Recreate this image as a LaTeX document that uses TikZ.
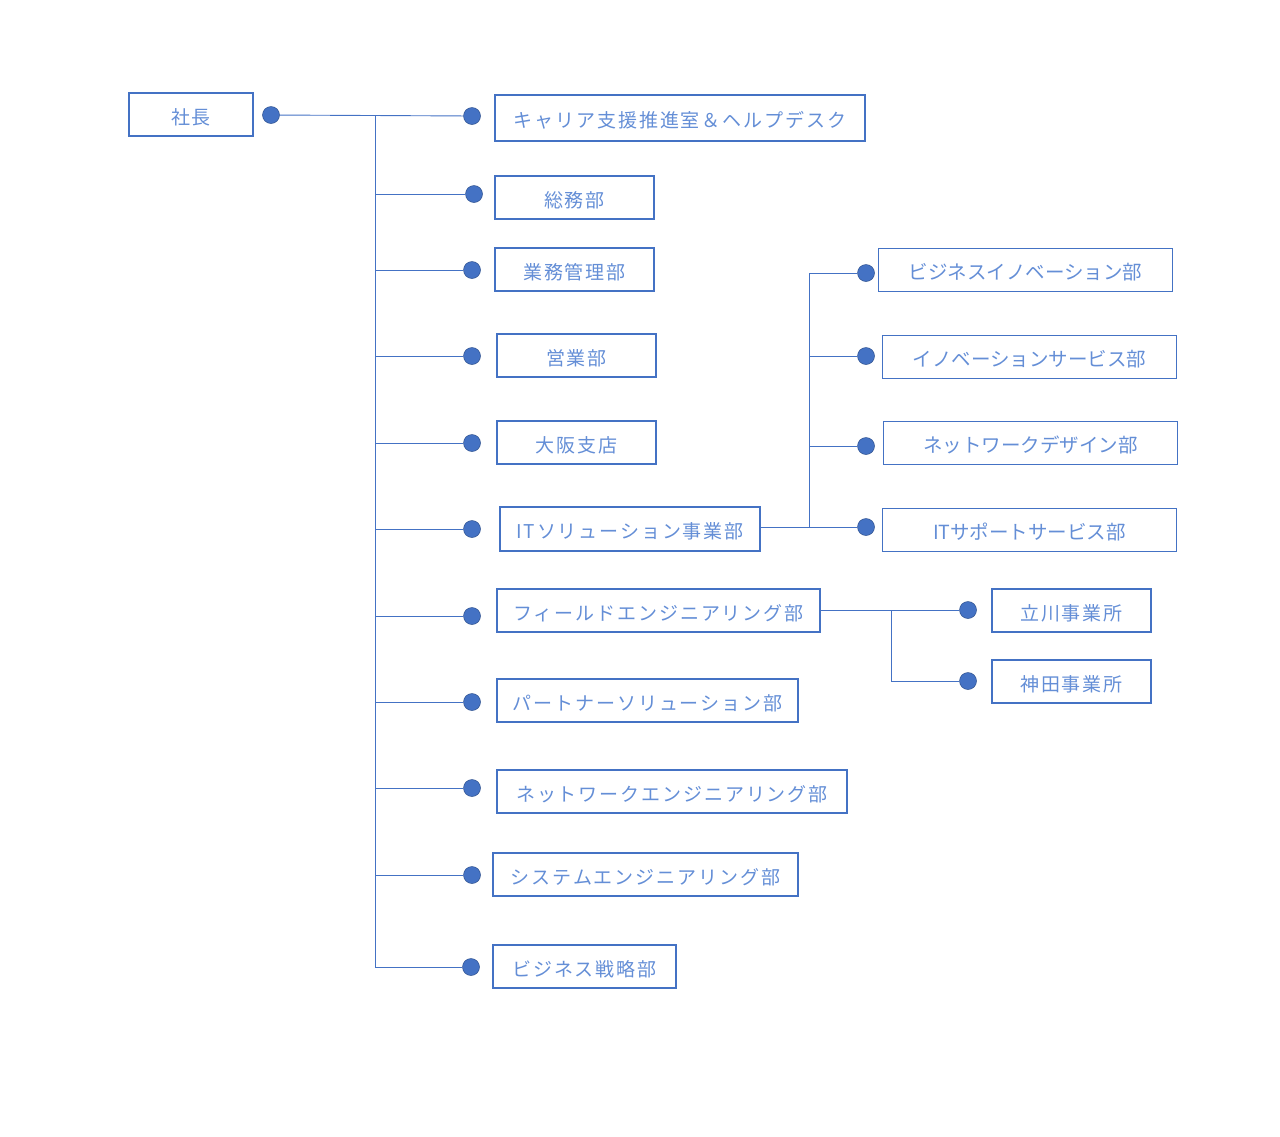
\documentclass[tikz,border=0pt]{standalone}
\usepackage{fontspec}
\usepackage{xcolor}
\usetikzlibrary{positioning,calc}
\newfontfamily\jpfont{Noto Sans CJK JP}
\newfontfamily\jpwide{Noto Sans CJK JP}[LetterSpace=10]
\definecolor{orgblue}{HTML}{4472C4}
\definecolor{orgtext}{HTML}{648ED6}
\definecolor{dotedge}{HTML}{2F528F}

\begin{document}
\begin{tikzpicture}[x=1pt, y=-1pt,
    box/.style={rectangle, draw=orgblue, line width=2pt, inner sep=0pt, text height=19pt, text depth=0pt, text=orgtext, font=\jpwide\fontsize{19}{22}\selectfont},
    subbox/.style={box, line width=1.2pt, font=\jpfont\fontsize{19.5}{22}\selectfont},
    dot/.style={circle, fill=orgblue, draw=dotedge, line width=0.5pt, minimum size=17pt, inner sep=0pt},
    conn/.style={draw=orgblue, line width=0.9pt}]
    \useasboundingbox (0,0) rectangle (1280,1136);

    \node [box, minimum width=124pt, minimum height=43pt] (pres) at (191,114.5) {社長};
    \node [box, minimum width=370pt, minimum height=46pt] (career) at (680,118) {キャリア支援推進室＆ヘルプデスク};
    \node [box, minimum width=159pt, minimum height=43pt] (soumu) at (574.5,197.5) {総務部};
    \node [box, minimum width=159pt, minimum height=43pt] (gyomu) at (574.5,269.5) {業務管理部};
    \node [box, minimum width=159pt, minimum height=43pt] (eigyo) at (576.5,355.5) {営業部};
    \node [box, minimum width=159pt, minimum height=43pt] (osaka) at (576.5,442.5) {大阪支店};
    \node [box, minimum width=260pt, minimum height=44pt] (itsol) at (630,529) {ITソリューション事業部};
    \node [box, minimum width=323pt, minimum height=43pt] (field) at (658.5,610.5) {フィールドエンジニアリング部};
    \node [box, minimum width=301pt, minimum height=43pt] (partner) at (647.5,700.5) {パートナーソリューション部};
    \node [box, minimum width=350pt, minimum height=43pt] (neteng) at (672,791.5) {ネットワークエンジニアリング部};
    \node [box, minimum width=305pt, minimum height=43pt] (syseng) at (645.5,874.5) {システムエンジニアリング部};
    \node [box, minimum width=183pt, minimum height=43pt] (bizstr) at (584.5,966.5) {ビジネス戦略部};

    \node [subbox, minimum width=294pt, minimum height=43pt] (bizinno) at (1025.5,270) {ビジネスイノベーション部};
    \node [subbox, minimum width=294pt, minimum height=43pt] (innosvc) at (1029.5,357) {イノベーションサービス部};
    \node [subbox, minimum width=294pt, minimum height=43pt] (netdes) at (1030.5,443) {ネットワークデザイン部};
    \node [subbox, minimum width=294pt, minimum height=43pt] (itsup) at (1029.5,530) {ITサポートサービス部};
    \node [box, minimum width=159pt, minimum height=43pt] (tachi) at (1071.5,610.5) {立川事業所};
    \node [box, minimum width=159pt, minimum height=43pt] (kanda) at (1071.5,681.5) {神田事業所};

    % dots
    \node [dot] (dpres) at (271,115) {};
    \node [dot] (dcareer) at (472,116) {};
    \node [dot] (dsoumu) at (474,194) {};
    \node [dot] (dgyomu) at (472,270) {};
    \node [dot] (deigyo) at (472,356) {};
    \node [dot] (dosaka) at (472,443) {};
    \node [dot] (ditsol) at (472,529) {};
    \node [dot] (dfield) at (472,616) {};
    \node [dot] (dpartner) at (472,702) {};
    \node [dot] (dneteng) at (472,788) {};
    \node [dot] (dsyseng) at (472,875) {};
    \node [dot] (dbizstr) at (471,967) {};
    \node [dot] (dbizinno) at (866,273) {};
    \node [dot] (dinnosvc) at (866,356) {};
    \node [dot] (dnetdes) at (866,446) {};
    \node [dot] (ditsup) at (866,527) {};
    \node [dot] (dtachi) at (968,610) {};
    \node [dot] (dkanda) at (968,681) {};

    % main trunk
    \coordinate (trunk) at (375,115);
    \draw [conn] (dpres) -- (dcareer);
    \draw [conn] (trunk) -- (trunk |- dbizstr);
    \draw [conn] (trunk |- dsoumu) -- (dsoumu);
    \draw [conn] (trunk |- dgyomu) -- (dgyomu);
    \draw [conn] (trunk |- deigyo) -- (deigyo);
    \draw [conn] (trunk |- dosaka) -- (dosaka);
    \draw [conn] (trunk |- ditsol) -- (ditsol);
    \draw [conn] (trunk |- dfield) -- (dfield);
    \draw [conn] (trunk |- dpartner) -- (dpartner);
    \draw [conn] (trunk |- dneteng) -- (dneteng);
    \draw [conn] (trunk |- dsyseng) -- (dsyseng);
    \draw [conn] (trunk |- dbizstr) -- (dbizstr);

    % IT branch
    \coordinate (itrunk) at (809,273);
    \draw [conn] (itrunk) -- (itrunk |- ditsup);
    \draw [conn] (itrunk) -- (dbizinno);
    \draw [conn] (itrunk |- dinnosvc) -- (dinnosvc);
    \draw [conn] (itrunk |- dnetdes) -- (dnetdes);
    \draw [conn] (itsol.east |- ditsup) -- (ditsup);

    % field branch
    \coordinate (fsplit) at (891,610);
    \draw [conn] (field.east |- fsplit) -- (dtachi);
    \draw [conn] (fsplit) |- (dkanda);
\end{tikzpicture}
\end{document}
